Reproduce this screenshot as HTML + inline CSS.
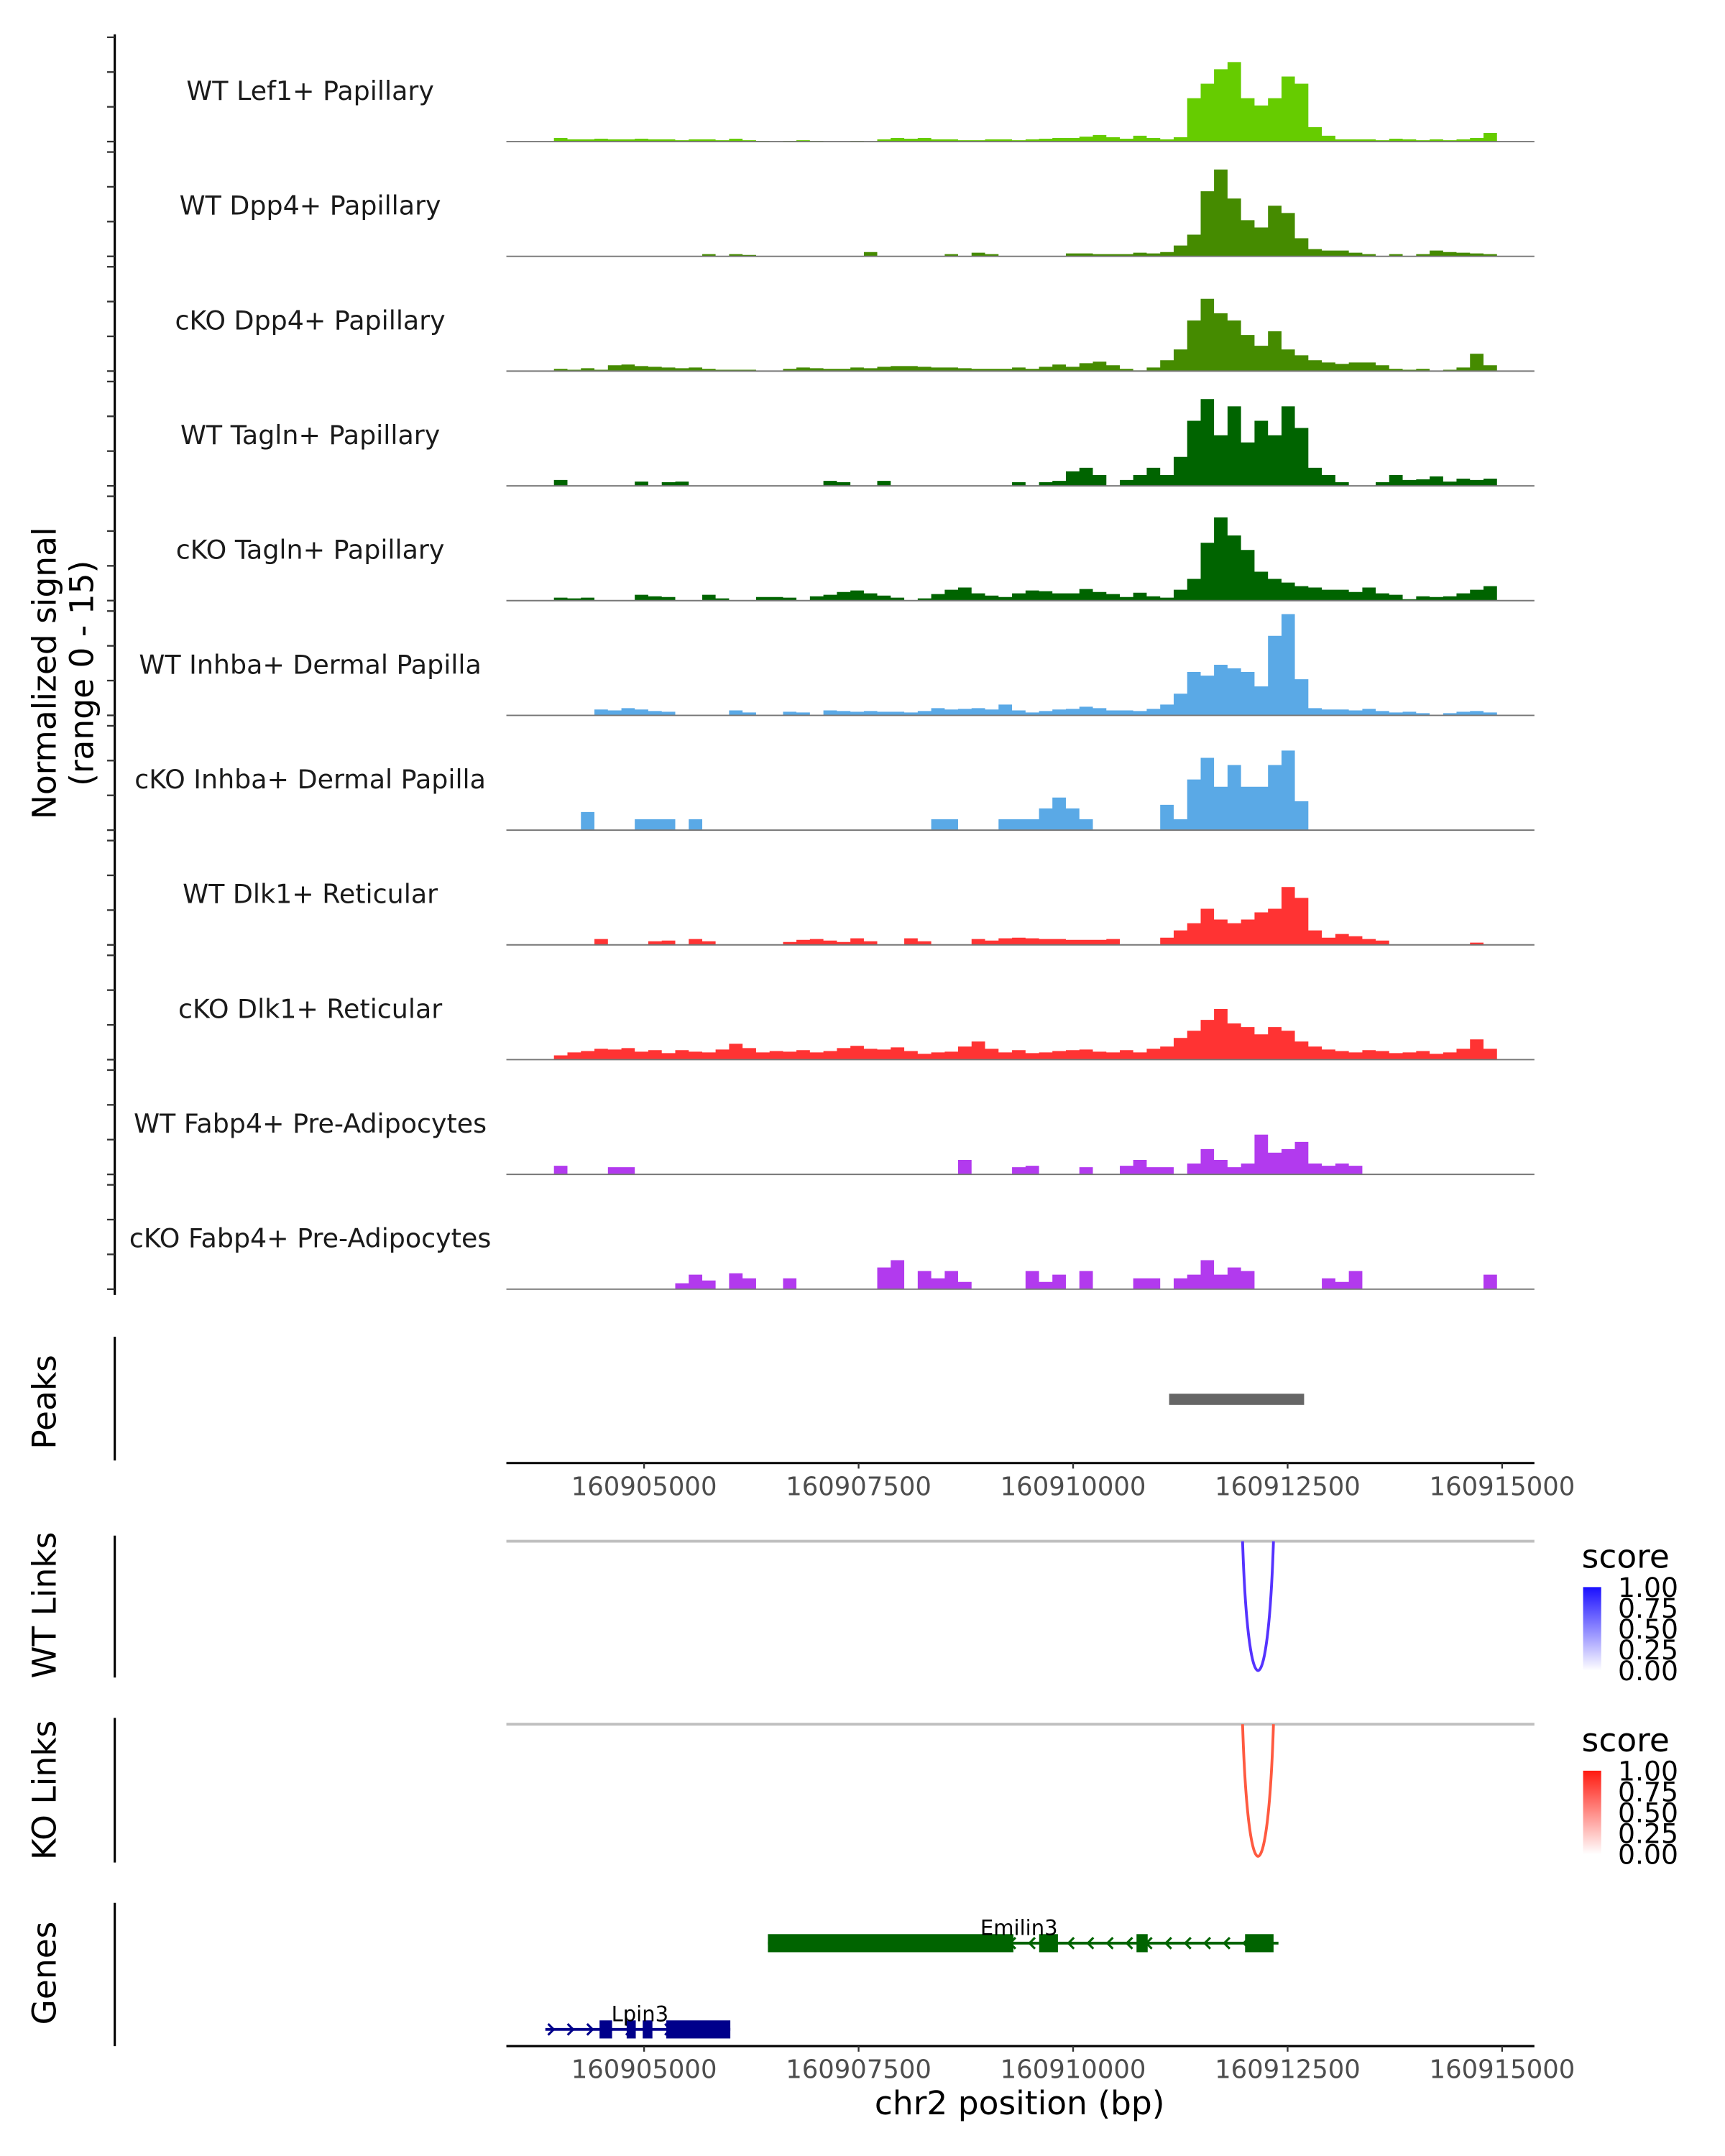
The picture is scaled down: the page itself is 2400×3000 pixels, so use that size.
<!DOCTYPE html>
<html><head><meta charset="utf-8"><style>
html,body{margin:0;padding:0;background:#fff;}
svg{display:block;font-family:"DejaVu Sans","Liberation Sans",sans-serif;}
</style></head><body>
<svg id="chart" xmlns="http://www.w3.org/2000/svg" width="2400" height="3000" viewBox="0 0 1240 1550" preserveAspectRatio="none">
<defs>
<linearGradient id="gBlue" x1="0" y1="1" x2="0" y2="0"><stop offset="0" stop-color="#ffffff"/><stop offset="1" stop-color="#1a0fff"/></linearGradient>
<linearGradient id="gRed" x1="0" y1="1" x2="0" y2="0"><stop offset="0" stop-color="#ffffff"/><stop offset="1" stop-color="#ff1a10"/></linearGradient>
</defs>
<g id="tracks"></g>
<g id="rest"></g>
</svg>
<script>
const trackLabels = ["WT Lef1+ Papillary","WT Dpp4+ Papillary","cKO Dpp4+ Papillary","WT Tagln+ Papillary","cKO Tagln+ Papillary","WT Inhba+ Dermal Papilla","cKO Inhba+ Dermal Papilla","WT Dlk1+ Reticular","cKO Dlk1+ Reticular","WT Fabp4+ Pre-Adipocytes","cKO Fabp4+ Pre-Adipocytes"];
const trackColors = ["#66cc00","#458b00","#458b00","#006400","#006400","#5aa9e6","#5aa9e6","#ff3333","#ff3333","#b23aee","#b23aee"];
const binStart = 160903950;
const binSize = 157;
const sigLef1 = [0.5,0.3,0.3,0.4,0.3,0.3,0.4,0.3,0.3,0.2,0.3,0.3,0.2,0.4,0.2,0.1,0,0.1,0.2,0.1,0,0,0.1,0,0.3,0.5,0.4,0.5,0.3,0.3,0.2,0.2,0.3,0.3,0.2,0.3,0.4,0.5,0.5,0.7,0.9,0.6,0.4,0.8,0.5,0.3,0.6,6,8,10,11,6,5,6,9,8,2,0.8,0.3,0.3,0.3,0.2,0.4,0.3,0.2,0.3,0.2,0.3,0.5,1.2];
const sigWtDpp4 = [0,0,0,0,0,0,0,0,0,0,0,0.3,0,0.3,0.2,0,0,0,0,0,0,0,0,0.6,0,0,0,0,0,0.3,0,0.5,0.3,0,0,0,0,0,0.4,0.4,0.3,0.3,0.3,0.5,0.4,0.6,1.5,3,9,12,8,5,4,7,6,2.5,1,0.8,0.8,0.5,0.3,0,0.3,0,0.3,0.8,0.6,0.5,0.4,0.3];
const sigKoDpp4 = [0.3,0.2,0.4,0.2,0.8,0.9,0.7,0.6,0.5,0.4,0.5,0.3,0.2,0.2,0.2,0,0,0.3,0.5,0.4,0.3,0.3,0.5,0.4,0.6,0.7,0.7,0.6,0.5,0.5,0.4,0.3,0.3,0.3,0.5,0.3,0.6,0.9,0.6,1.1,1.3,0.8,0.3,0.1,0.5,1.5,3,7,10,8,7,5,3.5,5.5,3,2.2,1.5,1.2,1,1.2,1.2,0.8,0.3,0.2,0.3,0,0.2,0.5,2.4,0.8];
const sigWtTagln = [0.8,0,0,0,0,0,0.6,0,0.5,0.6,0,0,0,0,0,0,0,0,0,0,0.7,0.5,0,0,0.7,0,0,0,0,0,0,0,0,0,0.5,0,0.5,0.7,2,2.5,1.5,0,0.8,1.5,2.5,1.5,4,9,12,7,11,6,9,7,11,8,2.5,1.5,0.5,0,0,0.5,1.5,0.8,0.9,1.3,0.6,1,0.8,1];
const sigKoTagln = [0.4,0.3,0.4,0,0,0,0.8,0.6,0.5,0,0,0.8,0.3,0,0,0.5,0.5,0.4,0,0.6,0.8,1.2,1.4,1,0.7,0.4,0,0.3,0.9,1.5,1.8,1,0.7,0.5,1,1.4,1.3,1,1,1.6,1.2,0.9,0.5,1.1,0.6,0.4,1.5,3,8,11.5,9,7,4,3,2.5,2,1.8,1.5,1.5,1.2,1.8,1,0.8,0.2,0.6,0.5,0.6,1,1.5,2];
const sigWtInhba = [0,0,0,0.8,0.7,1,0.8,0.6,0.5,0,0,0,0,0.7,0.4,0,0,0.5,0.4,0,0.7,0.6,0.5,0.6,0.5,0.5,0.4,0.6,1,0.8,0.9,1,0.8,1.5,0.7,0.4,0.6,0.8,0.9,1.2,1,0.7,0.7,0.6,0.9,1.5,3,6,5.5,7,6.5,6,4,11,14,5,1,0.8,0.8,0.7,0.9,0.6,0.4,0.5,0.3,0,0.3,0.5,0.6,0.4];
const sigKoInhba = [0,0,2.5,0,0,0,1.5,1.5,1.5,0,1.5,0,0,0,0,0,0,0,0,0,0,0,0,0,0,0,0,0,1.5,1.5,0,0,0,1.5,1.5,1.5,3,4.5,3,1.5,0,0,0,0,0,3.5,1.5,7,10,6,9,6,6,9,11,4,0,0,0,0,0,0,0,0,0,0,0,0,0,0];
const sigWtDlk1 = [0,0,0,0.8,0,0,0,0.5,0.6,0,0.8,0.5,0,0,0,0,0,0.4,0.7,0.8,0.6,0.4,0.9,0.5,0,0,0.9,0.5,0,0,0,0.8,0.6,0.9,1,0.9,0.8,0.8,0.7,0.7,0.7,0.8,0,0,0,1,2,3,5,3.5,3,3.5,4.5,5,8,6.5,2,1,1.5,1.2,0.8,0.6,0,0,0,0,0,0,0.3,0];
const sigKoDlk1 = [0.6,1,1.2,1.5,1.4,1.6,1.1,1.3,0.9,1.3,1.1,1,1.4,2.2,1.6,1,1.2,1.1,1.3,1,1.2,1.6,1.9,1.5,1.4,1.7,1.2,0.8,1,1.1,1.8,2.5,1.5,1,1.3,0.9,1,1.2,1.3,1.4,1.1,1,1.3,1,1.5,1.8,3,4,5.5,7,5,4.5,3.5,4.5,4,2.5,1.8,1.4,1.2,1,1.3,1.2,0.9,1,1.2,0.8,1,1.5,2.8,1.5];
const sigWtFabp4 = [1.2,0,0,0,1,1,0,0,0,0,0,0,0,0,0,0,0,0,0,0,0,0,0,0,0,0,0,0,0,0,2,0,0,0,1,1.2,0,0,0,1,0,0,1.2,2,1,1,0,1.5,3.5,2,1,1.5,5.5,3,3.5,4.5,1.5,1.2,1.5,1.2,0,0,0,0,0,0,0,0,0,0];
const sigKoFabp4 = [0,0,0,0,0,0,0,0,0,0.8,2,1.2,0,2.2,1.5,0,0,1.5,0,0,0,0,0,0,3,4,0,2.5,1.5,2.5,1,0,0,0,0,2.5,1,2,0,2.5,0,0,0,1.5,1.5,0,1.5,2,4,2,3,2.5,0,0,0,0,0,1.5,1,2.5,0,0,0,0,0,0,0,0,0,2];
const signals = [sigLef1,sigWtDpp4,sigKoDpp4,sigWtTagln,sigKoTagln,sigWtInhba,sigKoInhba,sigWtDlk1,sigKoDlk1,sigWtFabp4,sigKoFabp4];
const xTicks = [160905000,160907500,160910000,160912500,160915000];
const peakStarts = [160911119];
const peakEnds = [160912692];
const wtLinkStart = [160911975], wtLinkEnd = [160912335], wtLinkScore = [0.8];
const koLinkStart = [160911975], koLinkEnd = [160912335], koLinkScore = [0.7];
const legendTicks = ["1.00","0.75","0.50","0.25","0.00"];
const geneNames = ["Emilin3","Lpin3"];
const geneStart = [160906443,160903849];
const geneEnd = [160912393,160906005];
const geneStrand = [-1,1];
const emilin3ExonStart = [160906443,160909604,160910739,160912004];
const emilin3ExonEnd = [160909304,160909823,160910869,160912336];
const lpin3ExonStart = [160904481,160904797,160904984,160905259];
const lpin3ExonEnd = [160904627,160904903,160905097,160906005];

const NS="http://www.w3.org/2000/svg";
const xS = bp => 463 + (bp-160905000)*0.06168;
const PL=364, PR=1103;
function mk(parent,tag,attrs,text){const e=document.createElementNS(NS,tag);for(const k in attrs)e.setAttribute(k,attrs[k]);if(text!==undefined)e.textContent=text;parent.appendChild(e);return e;}
const T=document.getElementById('tracks'), R=document.getElementById('rest');
const base0=101.8, step=82.5, unit=5.2;
let ax=mk(T,'line',{x1:82.5,y1:24.7,x2:82.5,y2:931,stroke:'#000','stroke-width':1.6});


let yt=mk(T,'text',{x:0,y:0,'font-size':23.5,'text-anchor':'middle',transform:'translate(40,484) rotate(-90)'},'Normalized signal');


let yt2=mk(T,'text',{x:0,y:0,'font-size':23.5,'text-anchor':'middle',transform:'translate(67,484) rotate(-90)'},'(range 0 - 15)');


signals.forEach((s,t)=>{
  const b=base0+t*step;
  for(let k=0;k<4;k++){const tk=mk(T,'line',{x1:77,x2:82.5,y1:b-k*25,y2:b-k*25,stroke:'#333','stroke-width':1.2});
    
    }
  const lb=mk(T,'text',{x:223,y:b-30,'font-size':18.8,'text-anchor':'middle',fill:'#1a1a1a'},trackLabels[t]);
  
  
  let d='M'+xS(binStart).toFixed(1)+','+b;
  s.forEach((v,i)=>{const x0=xS(binStart+i*binSize),x1=xS(binStart+(i+1)*binSize),y=b-Math.min(v,15)*unit;d+=' L'+x0.toFixed(1)+','+y.toFixed(1)+' L'+x1.toFixed(1)+','+y.toFixed(1);});
  d+=' L'+xS(binStart+s.length*binSize).toFixed(1)+','+b+' Z';
  const a=mk(T,'path',{d:d,fill:trackColors[t]});
  
  
  const bl=mk(T,'line',{x1:PL,x2:PR,y1:b,y2:b,stroke:'#777','stroke-width':1});
  
  
});
function panelAxis(y1,y2,cy,label,name){
  const l=mk(R,'line',{x1:82.5,x2:82.5,y1:y1,y2:y2,stroke:'#000','stroke-width':1.6});
  
  
  const t=mk(R,'text',{x:0,y:0,'font-size':23.5,'text-anchor':'middle',transform:'translate(40,'+cy+') rotate(-90)'},label);
  
  
}
function xAxis(y,name){
  const l=mk(R,'line',{x1:PL,x2:PR,y1:y,y2:y,stroke:'#000','stroke-width':1.6});
  
  
  xTicks.forEach(v=>{const x=xS(v);
    const tk=mk(R,'line',{x1:x,x2:x,y1:y,y2:y+4,stroke:'#333','stroke-width':1.2});
    
    
    const tl=mk(R,'text',{x:x,y:y+23,'font-size':18.3,'text-anchor':'middle',fill:'#4d4d4d'},String(v));
    
    });
}
panelAxis(961,1050,1008,'Peaks','peaks');
peakStarts.forEach((s,i)=>{const r=mk(R,'rect',{x:xS(s),y:1002,width:xS(peakEnds[i])-xS(s),height:8,fill:'#666'});
  
  });
xAxis(1051.8,'peaks-x-axis');
function links(y0,y1,ax1,ax2,cy,starts,ends,scores,color,grad,label,name,ly){
  panelAxis(ax1,ax2,cy,label,name);
  const g=mk(R,'line',{x1:PL,x2:PR,y1:y0,y2:y0,stroke:'#bfbfbf','stroke-width':2});
  
  
  starts.forEach((s,i)=>{const a=xS(s),b=xS(ends[i]),c=y0+(y1-y0)/0.75;
    const p=mk(R,'path',{d:`M${a},${y0} C${a+4},${c} ${b-4},${c} ${b},${y0}`,fill:'none',stroke:color,'stroke-width':2});
    
    });
  const st=mk(R,'text',{x:1137,y:ly,'font-size':23.5},'score');
  
  
  const cb=mk(R,'rect',{x:1138,y:ly+14,width:13,height:60,fill:'url(#'+grad+')'});
  
  
  legendTicks.forEach((t,i)=>{
    const tl=mk(R,'text',{x:1163,y:ly+21+i*15,'font-size':19.5},t);
    
    });
}
links(1108,1201,1104,1206,1154,wtLinkStart,wtLinkEnd,wtLinkScore,'#5533ff','gBlue','WT Links','wt-links',1127);
links(1239.6,1334.5,1235,1339,1287,koLinkStart,koLinkEnd,koLinkScore,'#ff5a40','gRed','KO Links','ko-links',1259);
panelAxis(1368,1471,1418.5,'Genes','genes');
function gene(i,y,exS,exE,color,labelX,labelY){
  const l=mk(R,'line',{x1:xS(geneStart[i]),x2:xS(geneEnd[i]),y1:y,y2:y,stroke:color,'stroke-width':2});
  
  
  for(let x=xS(geneStart[i])+6;x<xS(geneEnd[i])-2;x+=14){
    const dx=geneStrand[i]*4;
    const c=mk(R,'polyline',{points:`${x-dx},${y-4} ${x},${y} ${x-dx},${y+4}`,fill:'none',stroke:color,'stroke-width':1.6});
    
    }
  exS.forEach((s,k)=>{const r=mk(R,'rect',{x:xS(s),y:y-6.5,width:xS(exE[k])-xS(s),height:13,fill:color});
    
    });
  const t=mk(R,'text',{x:labelX,y:labelY,'font-size':15,'text-anchor':'middle'},geneNames[i]);
  
  
}
gene(0,1397,emilin3ExonStart,emilin3ExonEnd,'#006400',732.5,1391);
gene(1,1459,lpin3ExonStart,lpin3ExonEnd,'#00008b',460,1453);
xAxis(1471,'genes-x-axis');
const xt=mk(R,'text',{x:733,y:1520,'font-size':23.5,'text-anchor':'middle'},'chr2 position (bp)');


</script>
</body></html>
